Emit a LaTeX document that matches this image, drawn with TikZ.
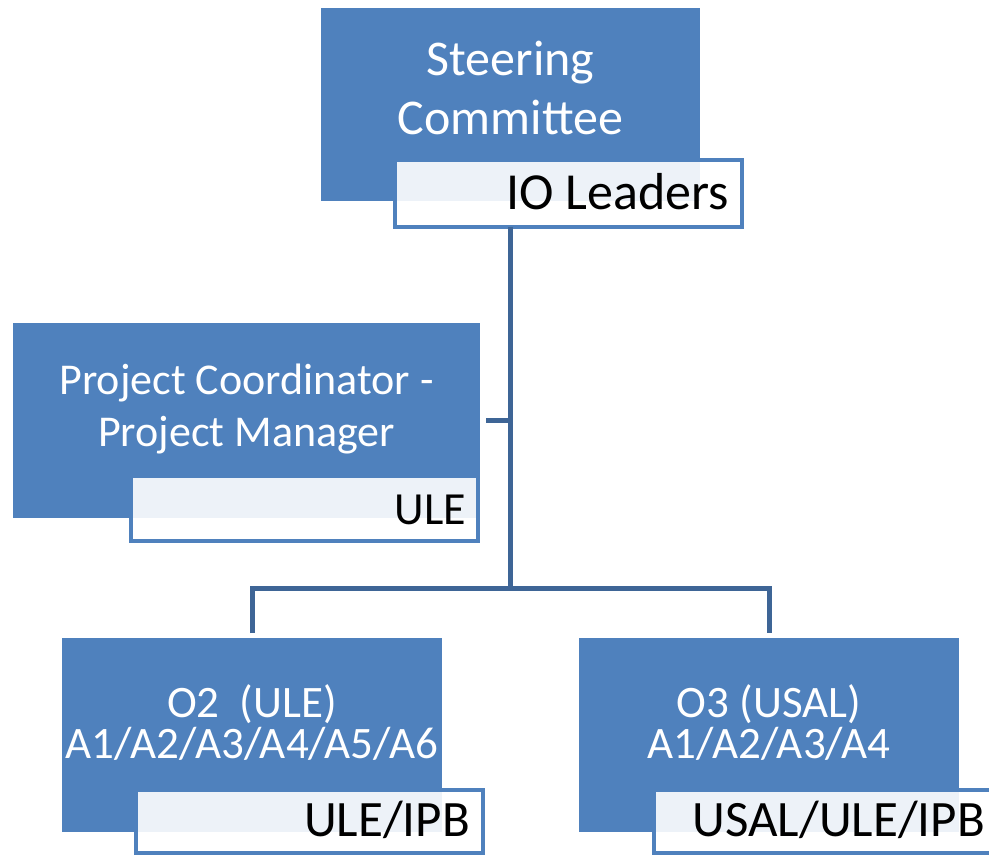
\documentclass[tikz,border=0pt]{standalone}
\usepackage{fontspec}
\setmainfont{Carlito}
\definecolor{boxblue}{RGB}{79,129,189}
\definecolor{linkblue}{RGB}{62,101,150}
\begin{document}
\begin{tikzpicture}[x=1pt,y=-1pt,
  mainbox/.style={fill=boxblue,draw=none,inner sep=0pt,outer sep=0pt,anchor=north west},
  tagbox/.style={draw=boxblue,line width=4pt,fill=white,fill opacity=0.9,inner sep=0pt,outer sep=0pt,anchor=north west,minimum width=347pt},
  maintext/.style={text=white,inner sep=0pt,anchor=base},
  tagtext/.style={text=black,inner sep=0pt,anchor=base east},
  link/.style={draw=linkblue,line width=5pt,line join=miter}]
\clip (0,0) rectangle (989,856);
\fill[white] (0,0) rectangle (989,856);

% connectors
\coordinate (hub) at (510.5,588);

% Steering Committee
\node[mainbox,minimum width=379pt,minimum height=193pt] (sc) at (321,8) {};
\node[tagbox,minimum height=67pt] (io) at (395,160) {};
\node[maintext,font=\fontsize{50}{60}\selectfont] (sc1) at (510.5,76) {Steering};
\node[maintext,font=\fontsize{50}{60}\selectfont] (sc2) at (510.5,135) {Committee};
\node[tagtext,font=\fontsize{52}{62}\selectfont] (iot) at (729,210) {IO Leaders};

% Project Coordinator
\node[mainbox,minimum width=467pt,minimum height=195pt] (pc) at (13,323) {};
\node[tagbox,minimum height=65pt] (ule) at (131,476) {};
\node[maintext,font=\fontsize{44}{52}\selectfont] (pc1) at (246.5,394) {Project Coordinator -};
\node[maintext,font=\fontsize{44}{52}\selectfont] (pc2) at (246.5,446) {Project Manager};
\node[tagtext,font=\fontsize{46}{54}\selectfont] (ulet) at (466,524) {ULE};

% O2
\node[mainbox,minimum width=380pt,minimum height=194pt] (o2) at (62,638) {};
\node[tagbox,minimum height=63pt] (o2tag) at (136,790) {};
\node[maintext,font=\fontsize{45}{52}\selectfont] (o2a) at (252,717) {O2~~(ULE)};
\node[maintext,font=\fontsize{45}{52}\selectfont] (o2b) at (252,758) {A1/A2/A3/A4/A5/A6};
\node[tagtext,font=\fontsize{51}{60}\selectfont] (o2t) at (470,836) {ULE/IPB};

% O3
\node[mainbox,minimum width=380pt,minimum height=194pt] (o3) at (579,638) {};
\node[tagbox,minimum height=63pt] (o3tag) at (654,790) {};
\node[maintext,font=\fontsize{45}{52}\selectfont] (o3a) at (769,717) {O3 (USAL)};
\node[maintext,font=\fontsize{45}{52}\selectfont] (o3b) at (769,758) {A1/A2/A3/A4};
\node[tagtext,font=\fontsize{51}{60}\selectfont] (o3t) at (985,836) {USAL/ULE/IPB};

\draw[link] (sc.south |- io.south) -- (hub);
\draw[link,shorten <=6pt] (pc.east) -- (pc.east -| hub);
\draw[link,shorten <=5pt,shorten >=5pt] (o2.north) |- (hub) -| (o3.north);
\end{tikzpicture}
\end{document}
